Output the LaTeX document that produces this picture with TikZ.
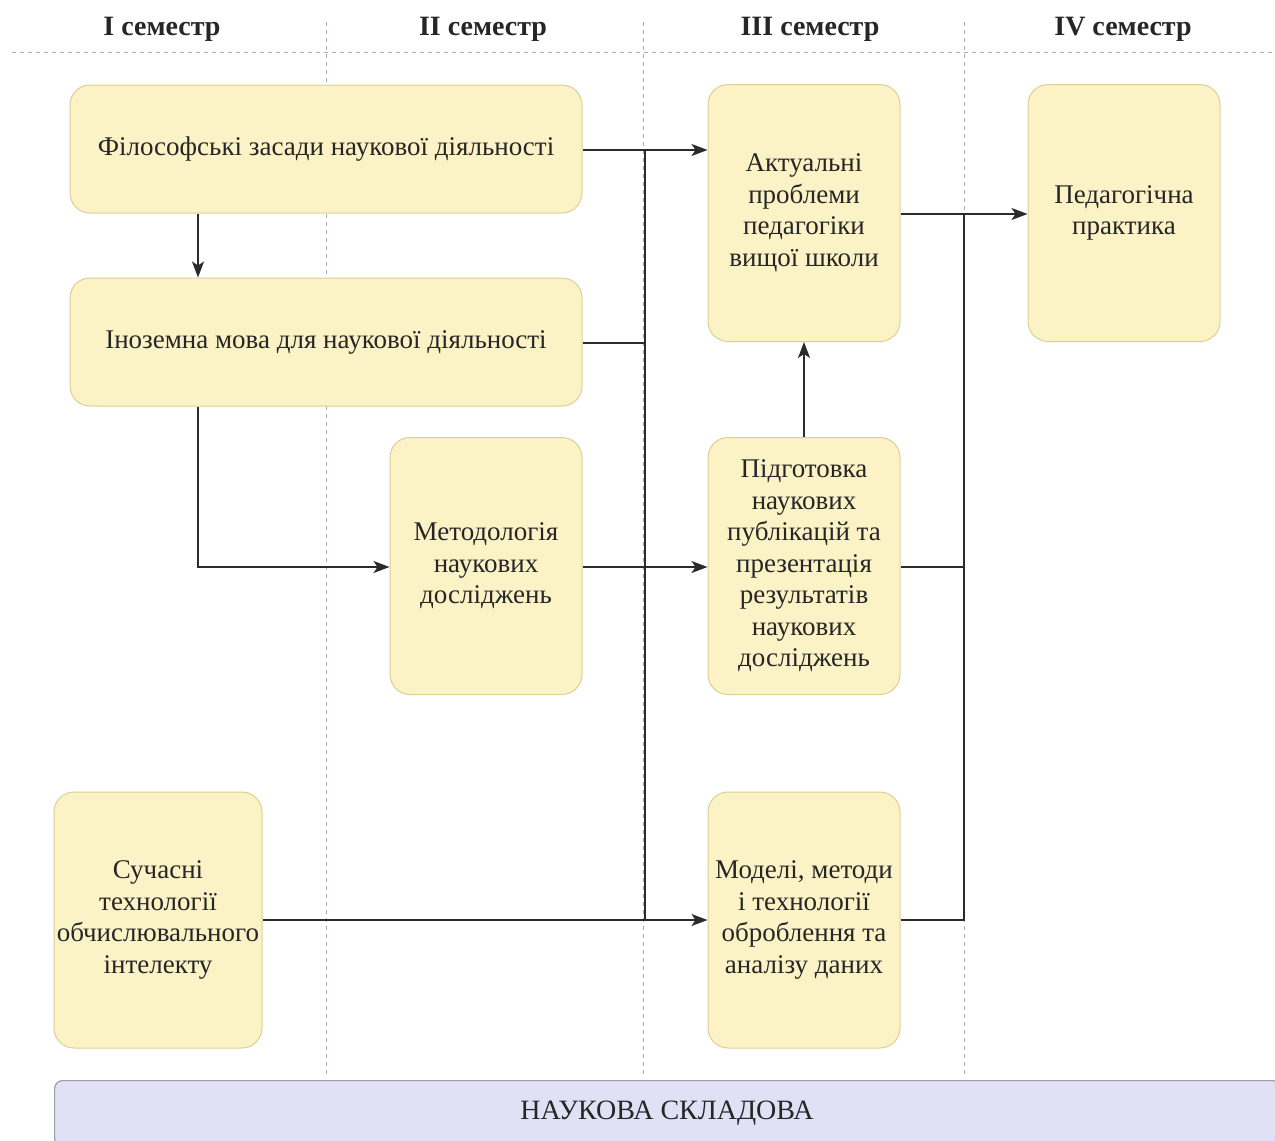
\documentclass[tikz,border=0pt]{standalone}
\usepackage{fontspec}
\setmainfont{Liberation Serif}
\usetikzlibrary{arrows.meta,positioning}
\definecolor{boxfill}{HTML}{FBF3C6}
\definecolor{boxline}{HTML}{DDCE96}
\definecolor{barfill}{HTML}{E2E0F5}
\definecolor{barline}{HTML}{9C9CAA}
\definecolor{conn}{HTML}{2B2B2B}
\definecolor{sep}{HTML}{A4ABBA}
\tikzset{
  box/.style={draw=boxline, fill=boxfill, line width=1pt, rounded corners=20pt,
    align=center, inner sep=0pt, font=\fontsize{27}{31.5}\selectfont, text=black!85},
  hdr/.style={font=\fontsize{28}{32}\selectfont\bfseries, text=black!85},
  wire/.style={draw=conn, line width=1.8pt},
  arr/.style={wire, -{Stealth[length=16pt,width=12pt,inset=4pt]}},
  sepline/.style={draw=sep, line width=0.8pt, dash pattern=on 4pt off 4pt},
}
\begin{document}
\begin{tikzpicture}[x=1pt,y=-1pt]
\path[use as bounding box] (0,0) rectangle (1275,1141);
\clip (0,0) rectangle (1275,1141);
% separators
\draw[sepline] (12,52) -- (1275,52);
\foreach \xx in {326,643,964} \draw[sepline] (\xx,22) -- (\xx,1078);
% headers
\node[hdr] (h1) at (162,29) {I семестр};
\node[hdr] (h2) at (483,29) {II семестр};
\node[hdr] (h3) at (810,29) {III семестр};
\node[hdr] (h4) at (1123,29) {IV семестр};
% boxes
\node[box, minimum width=512, minimum height=128] (A) at (326,149) {Філософські засади наукової діяльності};
\node[box, minimum width=512, minimum height=128] (B) at (326,342) {Іноземна мова для наукової діяльності};
\node[box, minimum width=192, minimum height=257] (C) at (486,566) {Методологія\\наукових\\досліджень};
\node[box, minimum width=192, minimum height=257] (D) at (804,213) {Актуальні\\проблеми\\педагогіки\\вищої школи};
\node[box, minimum width=192, minimum height=257] (E) at (1124,213) {Педагогічна\\практика};
\node[box, minimum width=192, minimum height=257] (F) at (804,566) {Підготовка\\наукових\\публікацій та\\презентація\\результатів\\наукових\\досліджень};
\node[box, minimum width=208, minimum height=256] (G) at (158,920) {Сучасні\\технології\\обчислювального\\інтелекту};
\node[box, minimum width=192, minimum height=256] (H) at (804,920) {Моделі, методи\\і технології\\оброблення та\\аналізу даних};
% bottom bar
\node[draw=barline, fill=barfill, line width=1.2pt, rounded corners=8pt, minimum width=1226, minimum height=66, anchor=north west, inner sep=0pt] (bar) at (54,1080) {};
\node[font=\fontsize{28}{32}\selectfont, text=black!85] (barlabel) at (667,1113) {НАУКОВА СКЛАДОВА};
% junction coordinates
\coordinate (jL) at (645,150);
\coordinate (jB) at (645,343);
\coordinate (jLb) at (645,920);
\coordinate (jR) at (964,214);
\coordinate (jF) at (964,567);
\coordinate (jH) at (964,920);
% connectors
\draw[arr] (A.east |- jL) -- (D.west |- jL);
\draw[wire] (jL) -- (jLb);
\draw[wire] (B.east |- jB) -- (jB) -- (jLb);
\draw[arr] (A.south -| 198,0) -- (B.north -| 198,0);
\draw[arr] (B.south -| 198,0) -- (198,567) -- (C.west |- 0,567);
\draw[arr] (C.east |- 0,567) -- (F.west |- 0,567);
\draw[arr] (F.north) -- (D.south);
\draw[arr] (D.east |- jR) -- (E.west |- jR);
\draw[wire] (F.east |- jF) -- (jF) -- (jR);
\draw[wire] (H.east |- jH) -- (jH) -- (jF);
\draw[arr] (G.east |- jLb) -- (H.west |- jLb);
\end{tikzpicture}
\end{document}
